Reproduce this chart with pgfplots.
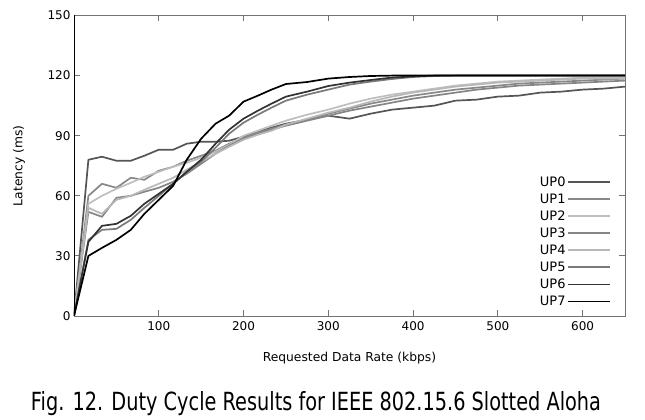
\documentclass[border=0pt]{standalone}
\usepackage{pgfplots}
\usepackage{pgfplotstable}
\usepackage{graphicx}
\usepackage{fontspec}
\setmainfont{DejaVu Sans}
\pgfplotsset{compat=1.18}
\pgfplotstableread{
x     UP0   UP1   UP2   UP3   UP4   UP5   UP6   UP7
0     0     0     0     0     0     0     0     0
17    78    60    56    52    54    38    37    30
33    79.5  66    60    49.5  51    43    45    34
50    77.5  64    63.5  59    58    43.5  46    38
67    77.5  69    66.5  60    60    48    50    43
83    80    68    69.5  62    63    54    56    51
100   83    72.5  72    64    66    60    61    58
117   83    74.5  74.5  67    69    66    66    65
133   86    77.5  76.5  71    73    72    72    78
150   87    80    79    76    77    77    78    88.5
167   87    82.5  82    81    81    84    86    96
183   87.5  86    85.5  85    84.5  91    93    100
200   89.5  89    90    88.5  88    96.5  98.5  107
217   92    91.5  92.5  91    90.5  100.5 102.5 110
233   94    93.5  95    93    92.5  104   106   113
250   96    95.5  97.5  95    95.5  107.5 109.5 115.8
275   98    98    100.5 97.5  98.5  110.5 112   116.8
300   100   101   103   100   101.5 113   114.8 118.5
325   98.5  103.5 106   102.5 104   115.5 116.5 119.3
350   101   106   108.5 104.5 107   117   117.8 119.8
375   103   108   110.5 106.5 109.5 118.3 119   120
400   104   110   112   108.5 111.5 119.3 119.6 120
425   105   111.5 113.5 110   113   119.8 120   120
450   107.5 113   115   111.5 114.5 120   120   120
475   108   114   116   113   115.5 120   120   120
500   109.5 115   117   114   116.5 120   120   120
525   110   116   117.5 115   117   120   120   120
550   111.5 116.5 118   115.5 117.5 120   120   120
575   112   117   118.5 116   118   120   120   120
600   113   117.5 119   116.5 118.5 120   120   120
625   113.5 118   119   117   118.5 120   120   120
650   114.5 118.5 119   117.5 118.5 120   120   120
}\datatable
\definecolor{cA}{HTML}{555555}
\definecolor{cB}{HTML}{888888}
\definecolor{cC}{HTML}{BEBEBE}
\definecolor{cD}{HTML}{858585}
\definecolor{cE}{HTML}{B8B8B8}
\definecolor{cF}{HTML}{7A7A7A}
\definecolor{cG}{HTML}{333333}
\definecolor{cH}{HTML}{000000}
\begin{document}
\begin{tikzpicture}
\useasboundingbox (0,0) rectangle (645pt,420pt);
\begin{axis}[
  at={(74pt,104pt)}, anchor=south west,
  scale only axis, width=551pt, height=300.5pt,
  xmin=0, xmax=650, ymin=0, ymax=150,
  xtick={100,200,300,400,500,600},
  ytick={0,30,60,90,120,150},
  tick align=inside, major tick length=6pt,
  axis line style={draw=black!55, line width=0.8pt},
  tick style={draw=black!55, line width=0.8pt},
  /pgf/number format/assume math mode=true,
  ticklabel style={font=\fontsize{12}{14}\selectfont},
  xticklabel style={yshift=-2pt},
  label style={font=\fontsize{12.3}{14}\selectfont},
  xlabel={Requested Data Rate (kbps)},
  ylabel={Latency (ms)},
  xlabel style={at={(rel axis cs:0.5,0)}, anchor=center, yshift=-42pt},
  ylabel style={at={(rel axis cs:-0.1,0.5)}, anchor=center},
  legend plot pos=right,
  legend cell align=right,
  legend image code/.code={\draw[#1, line width=1.7pt] (0pt,0pt) -- (42pt,0pt);},
  legend style={draw=none, fill=none, at={(rel axis cs:0.98,0.02)}, anchor=south east,
    font=\fontsize{13}{15}\selectfont,
    nodes={inner sep=1.5pt, text height=9pt, text depth=0.5pt}, row sep=4.6pt},
  every axis plot/.append style={line width=1.7pt, line join=round},
]
\addplot[color=cA] table[x=x,y=UP0] {\datatable};
\addlegendentry{UP0}
\addplot[color=cB] table[x=x,y=UP1] {\datatable};
\addlegendentry{UP1}
\addplot[color=cC] table[x=x,y=UP2] {\datatable};
\addlegendentry{UP2}
\addplot[color=cD] table[x=x,y=UP3] {\datatable};
\addlegendentry{UP3}
\addplot[color=cE] table[x=x,y=UP4] {\datatable};
\addlegendentry{UP4}
\addplot[color=cF] table[x=x,y=UP5] {\datatable};
\addlegendentry{UP5}
\addplot[color=cG] table[x=x,y=UP6] {\datatable};
\addlegendentry{UP6}
\addplot[color=cH] table[x=x,y=UP7] {\datatable};
\addlegendentry{UP7}
\draw[black, line width=0.8pt] (rel axis cs:0,0) -- (rel axis cs:0,1);
\end{axis}
\node[anchor=base] at (316pt,9pt) {\resizebox{570pt}{\height}{\fontsize{25}{29}\selectfont Fig. 12. Duty Cycle Results for IEEE 802.15.6 Slotted Aloha}};
\end{tikzpicture}
\end{document}
